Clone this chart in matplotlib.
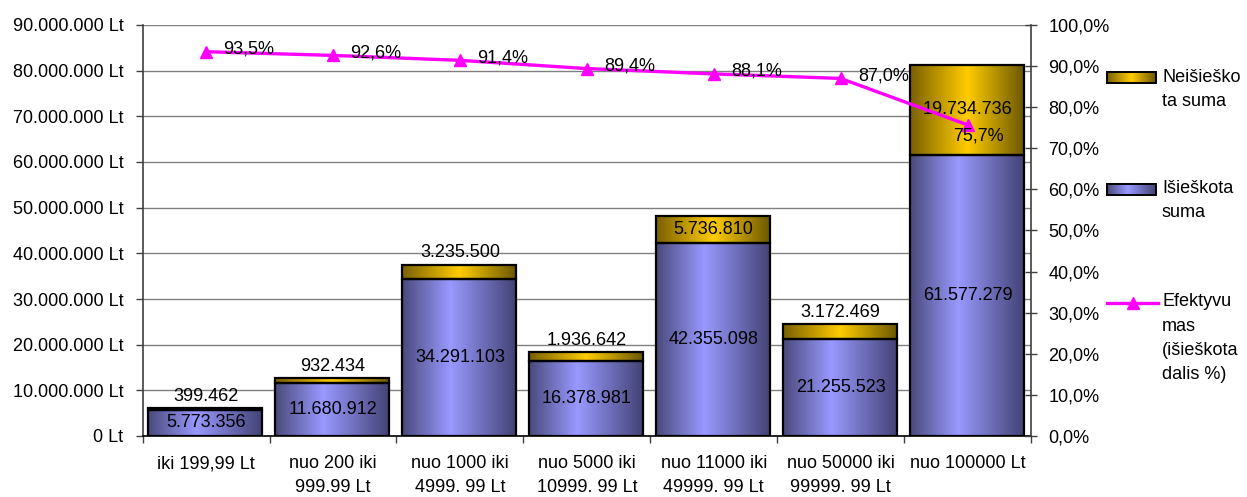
import numpy as np
import matplotlib
matplotlib.use("Agg")
import matplotlib.pyplot as plt
from matplotlib.patches import Rectangle
from matplotlib.ticker import FuncFormatter, FixedLocator

plt.rcParams['font.family'] = ['Liberation Sans', 'DejaVu Sans']

categories = ["iki 199,99 Lt", "nuo 200 iki\n999.99 Lt", "nuo 1000 iki\n4999. 99 Lt",
              "nuo 5000 iki\n10999. 99 Lt", "nuo 11000 iki\n49999. 99 Lt",
              "nuo 50000 iki\n99999. 99 Lt", "nuo 100000 Lt"]
collected = [5773356, 11680912, 34291103, 16378981, 42355098, 21255523, 61577279]
uncollected = [399462, 932434, 3235500, 1936642, 5736810, 3172469, 19734736]
efficiency = [93.5, 92.6, 91.4, 89.4, 88.1, 87.0, 75.7]
left_ticks = list(range(0, 90000001, 10000000))
right_ticks = [i / 10 for i in range(0, 11)]
legend_labels = ["Neišieško\nta suma", "Išieškota\nsuma", "Efektyvu\nmas\n(išieškota\ndalis %)"]

W, H = 1247, 497
fig = plt.figure(figsize=(W / 100, H / 100), dpi=100)
L, R, T, B = 142.7, 1031, 25, 436
ax = fig.add_axes([L / W, (H - B) / H, (R - L) / W, (B - T) / H])
FS = 13


def thousands(v):
    return f"{int(round(v)):,}".replace(",", ".")


def grad_colors(dark_l, bright, dark_r, n=200, peak=0.45):
    t = np.linspace(0, 1, n)
    dl = np.array(matplotlib.colors.to_rgb(dark_l))
    br = np.array(matplotlib.colors.to_rgb(bright))
    dr = np.array(matplotlib.colors.to_rgb(dark_r))
    out = np.zeros((1, n, 3))
    for i, ti in enumerate(t):
        if ti <= peak:
            f = ti / peak
            out[0, i] = dl + (br - dl) * f
        else:
            f = (ti - peak) / (1 - peak)
            out[0, i] = br + (dr - br) * f
    return out


blue_grad = grad_colors("#4a4a7c", "#9999ff", "#424274", peak=0.42)
gold_grad = grad_colors("#7a6000", "#ffcc00", "#6a5600", peak=0.5)

n = len(categories)
x = np.arange(n)
bw = 0.9
xoff = -0.007

ax.set_xlim(-0.5, n - 0.5)
ax.set_ylim(0, 90000000)

for i in range(n):
    x0, x1 = x[i] + xoff - bw / 2, x[i] + xoff + bw / 2
    c, u = collected[i], uncollected[i]
    ax.imshow(blue_grad, extent=[x0, x1, 0, c], aspect='auto', zorder=2, interpolation='bilinear')
    ax.imshow(gold_grad, extent=[x0, x1, c, c + u], aspect='auto', zorder=2, interpolation='bilinear')
    ax.add_patch(Rectangle((x0, 0), bw, c, fill=False, ec='black', lw=1.6, zorder=3))
    ax.add_patch(Rectangle((x0, c), bw, u, fill=False, ec='black', lw=1.6, zorder=3))
    ax.text(x[i], c / 2, thousands(c), ha='center', va='center', fontsize=FS, zorder=4)
    if u < 4000000:
        ax.annotate(thousands(u), (x[i], c + u), xytext=(0, 8.5), textcoords='offset points',
                    ha='center', va='center', fontsize=FS, zorder=4)
    else:
        ax.text(x[i], c + u / 2, thousands(u), ha='center', va='center', fontsize=FS, zorder=4)

ax.set_xlim(-0.5, n - 0.5)
ax.set_ylim(0, 90000000)

ax.yaxis.set_major_locator(FixedLocator(left_ticks))
ax.yaxis.set_major_formatter(FuncFormatter(lambda v, p: thousands(v) + " Lt"))
ax.grid(axis='y', color='#808080', lw=1.0, zorder=0)
ax.set_axisbelow(True)
ax.xaxis.set_major_locator(FixedLocator(np.arange(-0.5, n, 1.0)))
ax.xaxis.set_major_formatter(FuncFormatter(lambda v, p: ""))
ax.xaxis.set_minor_locator(FixedLocator(x))
ax.set_xticklabels(categories, minor=True)
ax.tick_params(axis='x', which='minor', length=0, pad=14, labelsize=FS)
ax.tick_params(axis='x', which='major', length=5, color='#404040', width=1)
ax.tick_params(axis='y', length=5, pad=9, labelsize=FS, color='#404040', width=1)
for lbl in ax.get_xticklabels(minor=True):
    lbl.set_linespacing(1.5)
ax.spines['top'].set_visible(False)
ax.spines['right'].set_visible(False)
ax.spines['left'].set_color('#404040')
ax.spines['left'].set_linewidth(1.2)
ax.spines['bottom'].set_color('black')
ax.spines['bottom'].set_linewidth(1.2)

ax2 = ax.twinx()
ax2.set_ylim(0, 1)
ax2.yaxis.set_major_locator(FixedLocator(right_ticks))
ax2.yaxis.set_major_formatter(FuncFormatter(lambda v, p: f"{v*100:.1f}%".replace(".", ",")))
ax2.tick_params(axis='y', direction='inout', length=9, pad=8, labelsize=FS, color='#404040', width=1)
for s in ['top', 'left', 'bottom']:
    ax2.spines[s].set_visible(False)
ax2.spines['right'].set_color('#404040')
ax2.spines['right'].set_linewidth(1.2)
eff = np.array(efficiency) / 100
ax2.plot(x, eff, color='#ff00ff', lw=2.4, marker='^', ms=9, zorder=5, clip_on=False)
for i, e in enumerate(efficiency):
    s = f"{e:.1f}%".replace(".", ",")
    if i == n - 1:
        ax2.annotate(s, (x[i], eff[i]), xytext=(8, -8), textcoords='offset points',
                     ha='center', va='center', fontsize=FS, zorder=6)
    else:
        ax2.annotate(s, (x[i], eff[i]), xytext=(12.5, 2), textcoords='offset points',
                     ha='left', va='center', fontsize=FS, zorder=6)

# legend drawn manually in pixel coordinates
lg = fig.add_axes([0, 0, 1, 1], zorder=10)
lg.set_xlim(0, W)
lg.set_ylim(H, 0)
lg.axis('off')
lg.patch.set_alpha(0)
sw_x0, sw_x1 = 1107, 1156
for grad, yc, lab in [(gold_grad, 77.5, legend_labels[0]), (blue_grad, 189, legend_labels[1])]:
    lg.imshow(grad, extent=[sw_x0, sw_x1, yc + 5.5, yc - 5.5], aspect='auto', interpolation='bilinear')
    lg.add_patch(Rectangle((sw_x0, yc - 5.5), sw_x1 - sw_x0, 11, fill=False, ec='black', lw=1.4))
    lg.text(1162, yc - 9, lab, ha='left', va='top', fontsize=FS, linespacing=1.55)
lg.plot([sw_x0, sw_x1 + 2], [302.5, 302.5], color='#ff00ff', lw=2.4)
lg.plot([(sw_x0 + sw_x1) / 2 + 1], [302.5], color='#ff00ff', marker='^', ms=9)
lg.text(1162, 302.5 - 9, legend_labels[2], ha='left', va='top', fontsize=FS, linespacing=1.55)
lg.set_xlim(0, W)
lg.set_ylim(H, 0)

fig.savefig("out.png", dpi=100)
